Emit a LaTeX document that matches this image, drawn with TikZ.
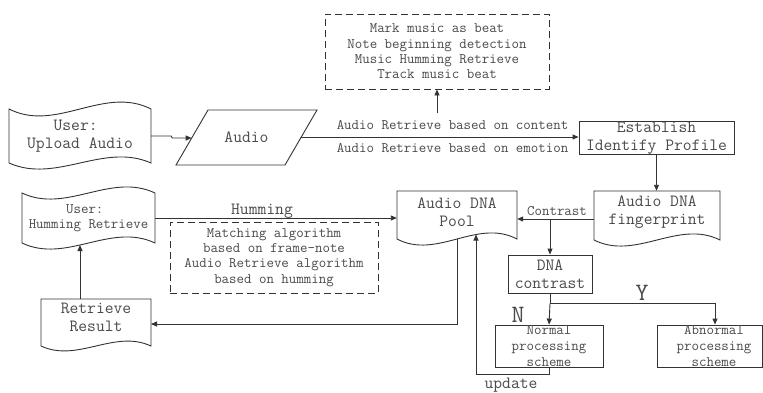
\documentclass[tikz,border=0pt]{standalone}
\usepackage{fontspec}
\usetikzlibrary{arrows.meta,calc}
\definecolor{lc}{HTML}{333333}
\definecolor{tc}{HTML}{4a4a4a}
\newcommand\bigfs{\fontsize{17.1}{18}\selectfont\ttfamily}
\newcommand\smfs{\fontsize{14.5}{15.4}\selectfont\ttfamily}
\newcommand\procfs{\fontsize{14.5}{15.8}\selectfont\ttfamily}
\newcommand\hugefs{\fontsize{25}{25}\selectfont\ttfamily}
\begin{document}
\begin{tikzpicture}[x=1pt,y=-1pt,
  ln/.style={draw=lc, line width=0.9pt},
  arr/.style={ln, -{Triangle[length=6pt,width=5pt]}},
  bigtext/.style={font=\bigfs, text=tc, align=center, inner sep=0pt},
  smtext/.style={font=\smfs, text=tc, align=center, inner sep=0pt},
  proctext/.style={font=\procfs, text=tc, align=center, inner sep=0pt},
  procbox/.style={ln, rectangle, inner sep=0pt},
  dbox/.style={ln, dash pattern=on 7pt off 4pt, rectangle, inner sep=0pt},
  frame/.style={inner sep=0pt, rectangle}
]
\useasboundingbox[fill=white] (0,0) rectangle (763,392);

% ---- shapes drawn directly ----
% User: Upload Audio (tape)
\draw[ln] (9,109) .. controls (56.3,133) and (103.7,85) .. (151,109) -- (151,163)
  .. controls (103.7,142) and (56.3,184) .. (9,163) -- cycle;
\node[bigtext, frame, minimum width=142pt, minimum height=54pt] (upload) at (80,136) {User:\hphantom{x}\\Upload Audio};

% Audio (parallelogram)
\draw[ln] (208,110) -- (317,110) -- (285,165) -- (176,165) -- cycle;
\node[bigtext] (audio) at (246.5,137.5) {Audio};
\coordinate (audioL) at (191.7,138);
\coordinate (audioR) at (301.3,137);

% dashed box 1
\node[dbox, smtext, minimum width=224pt, minimum height=75pt] (box1) at (437,51.5)
  {Mark music as beat\\Note beginning detection\\Music Humming Retrieve\\Track music beat};

% Establish Identify Profile
\node[procbox, bigtext, minimum width=155pt, minimum height=32pt] (estab) at (656.5,138) {Establish\\Identify Profile};

% Audio DNA fingerprint (document)
\draw[ln] (594,191) -- (720,191) -- (720,240) .. controls (678,219) and (636,261) .. (594,240) -- cycle;
\node[bigtext, frame, minimum width=126pt, minimum height=42pt] (fp) at (657,212) {Audio DNA\\fingerprint};

% Audio DNA Pool (document)
\draw[ln] (397,191) -- (517,191) -- (517,239) .. controls (477,218) and (437,260) .. (397,239) -- cycle;
\node[bigtext, frame, minimum width=120pt, minimum height=42pt] (pool) at (457,212) {Audio DNA\\Pool};

% User: Humming Retrieve (tape)
\draw[ln] (22,193) .. controls (66.3,214) and (110.7,172) .. (155,193) -- (155,243)
  .. controls (110.7,222) and (66.3,264) .. (22,243) -- cycle;
\node[smtext, frame, minimum width=133pt, minimum height=50pt] (hum) at (88.5,218) {User:\hphantom{x}\\Humming Retrieve};

% dashed box 2
\node[dbox, smtext, minimum width=208pt, minimum height=71pt] (box2) at (274,257.5)
  {Matching algorithm\\based on frame-note\\Audio Retrieve algorithm\\based on humming};

% Retrieve Result (document)
\draw[ln] (41,299) -- (151,299) -- (151,346) .. controls (114.3,329) and (77.7,363) .. (41,346) -- cycle;
\node[bigtext, frame, minimum width=110pt, minimum height=36pt] (retr) at (96,317) {Retrieve\\Result};

% DNA contrast
\node[procbox, bigtext, minimum width=84pt, minimum height=38pt] (dnac) at (550,274) {DNA\\contrast};

% Normal / Abnormal processing scheme
\node[procbox, minimum width=108pt, minimum height=42pt] (normal) at (549,346) {};
\node[proctext] (normaltxt) at (normal.center) {Normal\\processing\\scheme};
\node[procbox, minimum width=105pt, minimum height=42pt] (abn) at (709.5,346) {};
\node[proctext] (abntxt) at ([xshift=4.5pt]abn.center) {Abnormal\\processing\\scheme};

% ---- connectors ----
\draw[arr] (upload.east) -- ++(20,0) -- ++(1,2) -- (audioL);
\draw[arr] (audioR) -- (audioR -| estab.west);
\node[smtext] (lblc) at (452.5,125) {Audio Retrieve based on content};
\node[smtext] (lble) at (452.5,148) {Audio Retrieve based on emotion};

\coordinate (upS) at (437,113);
\draw[arr] (upS) -- (box1.south);

\draw[arr] (estab.south) -- (estab.south |- fp.north);

\coordinate (cy) at (594,219);
\draw[arr] (cy) -- (cy -| pool.east);
\node[smtext] (lblcon) at (557,211) {Contrast};
\coordinate (br) at (550,219);
\draw[arr] (br) -- (dnac.north);

\draw[ln] (dnac.south) -- ++(0,10) coordinate (split);
\draw[arr] (split) -- (normal.north);
\coordinate (abnIn) at ([xshift=5.5pt]abn.north);
\draw[arr] (split) -| (abnIn);
\node[text=tc, font=\hugefs, inner sep=0pt] (lY) at (642,293) {Y};
\node[text=tc, font=\hugefs, inner sep=0pt] (lN) at (518,315) {N};

\coordinate (poolU) at (476,234.5);
\draw[arr] (normal.south) -- ++(0,7) -| (poolU);
\node[bigtext] (lblu) at (511,385) {update};

\coordinate (poolD) at (457,239);
\coordinate (retrE) at (151,324);
\draw[arr] (poolD) |- (retrE);

\coordinate (humB) at (80,245);
\draw[arr] (retr.north -| humB) -- (humB);

\draw[arr] (hum.east) -- (hum.east -| pool.west);
\node[bigtext] (lblh) at (262,211) {Humming};
\end{tikzpicture}
\end{document}
